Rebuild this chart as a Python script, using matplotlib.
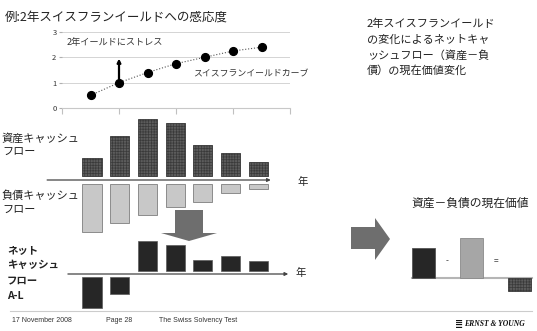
import matplotlib
matplotlib.use("Agg")
import matplotlib.pyplot as plt
import numpy as np
from matplotlib.patches import Polygon

plt.rcParams['font.family'] = ['Noto Sans CJK JP', 'DejaVu Sans']
plt.rcParams['hatch.linewidth'] = 0.5

W, H = 537, 331  # tamanho em pixels

# dados da curva de rendimento
curve_years = [1, 2, 3, 4, 5, 6, 7]
curve_yield = [0.5, 1.0, 1.4, 1.75, 2.0, 2.25, 2.4]
curve_yticks = [0, 1, 2, 3]
curve_xticks = [0, 2, 4, 6, 8]
stress_year = 2
stress_to = 1.95

# fluxos de caixa (ativos, passivos, líquido)
asset_cf = [1.8, 4.0, 5.7, 5.3, 3.1, 2.3, 1.4]
liab_cf = [4.8, 3.9, 3.1, 2.3, 1.8, 0.9, 0.5]
net_cf = [-3.1, -1.7, 3.0, 2.6, 1.1, 1.5, 1.0]

# valor presente A, L, A-L
pv_values = [3.0, 4.0, -1.3]
pv_ops = ['-', '=']

title = '例:2年スイスフランイールドへの感応度'
right_lines = ['2年スイスフランイールド', 'の変化によるネットキャ',
               'ッシュフロー（資産－負', '債）の現在価値変化']
footer = ['17 November 2008', 'Page 28', 'The Swiss Solvency Test']

fig = plt.figure(figsize=(W / 100, H / 100), dpi=100)


def box(x0, y0, x1, y1):
    # caixa em pixels (origem no topo) -> fração da figura
    return [x0 / W, 1 - y1 / H, (x1 - x0) / W, (y1 - y0) / H]


# camada de fundo para setas, linhas e textos
bg = fig.add_axes([0, 0, 1, 1], zorder=0)
bg.set_xlim(0, W)
bg.set_ylim(H, 0)
bg.axis('off')

bg.text(5, 17, title, fontsize=9, va='center', color='#222222')

# curva de rendimento
ax1 = fig.add_axes(box(62, 32, 290, 108))
ax1.set_xlim(0, 8)
ax1.set_ylim(0, 3)
for v in curve_yticks[1:]:
    ax1.axhline(v, color='#d4d4d4', lw=0.7, zorder=0)
ax1.plot(curve_years, curve_yield, ls=':', color='#555555', lw=0.8, zorder=2)
ax1.plot(curve_years, curve_yield, 'o', color='black', ms=5.6, zorder=3)
ax1.annotate('', xy=(stress_year, stress_to),
             xytext=(stress_year, curve_yield[stress_year - 1] + 0.15),
             arrowprops=dict(arrowstyle='-|>', color='black', lw=1.6,
                             mutation_scale=5, shrinkA=0, shrinkB=0))
ax1.set_xticks(curve_xticks)
ax1.set_xticklabels([])
ax1.set_yticks(curve_yticks)
ax1.tick_params(axis='y', length=2, pad=2, labelsize=5.5, colors='#b0b0b0',
                labelcolor='#333333')
ax1.tick_params(axis='x', length=4, colors='#c0c0c0')
for s in ['top', 'right', 'left']:
    ax1.spines[s].set_visible(False)
ax1.spines['bottom'].set_color('#c8c8c8')
ax1.text(0.15, 2.57, '2年イールドにストレス', fontsize=6.6, va='center',
         color='#333333')
ax1.text(4.6, 1.34, 'スイスフランイールドカーブ', fontsize=6.4, va='center',
         color='#333333')
ax1.set_facecolor('none')

# fluxos de ativos e passivos
x = np.arange(len(asset_cf))
ax2 = fig.add_axes(box(64.3, 116, 286, 244))
ax2.set_xlim(-1, 7)
ax2.set_ylim(-6.4, 6.4)
ax2.axis('off')
ax2.bar(x, asset_cf, bottom=0.4, width=0.69, color='#5c5c5c',
        edgecolor='#3a3a3a', hatch='++++++', lw=0.6)
ax2.bar(x, [-v for v in liab_cf], bottom=-0.4, width=0.69, color='#c8c8c8',
        edgecolor='#8c8c8c', lw=0.7)
ax2.annotate('', xy=(6.45, 0), xytext=(-1.62, 0), annotation_clip=False,
             arrowprops=dict(arrowstyle='-|>', color='#444444', lw=0.9,
                             mutation_scale=5, shrinkA=0, shrinkB=0))

for txt, yy in [('資産キャッシュ', 138), ('フロー', 153),
                ('負債キャッシュ', 196), ('フロー', 211)]:
    bg.text(2, yy, txt, fontsize=8, va='center', color='#222222')
bg.text(297, 182, '年', fontsize=7.5, va='center', color='#222222')

# seta para baixo
bg.add_patch(Polygon([(175, 210), (203, 210), (203, 233), (217, 233),
                      (189, 241), (161, 233), (175, 233)],
                     closed=True, color='#6e6e6e', lw=0))

# fluxo líquido
ax3 = fig.add_axes(box(64.3, 239, 286, 309))
ax3.set_xlim(-1, 7)
ax3.set_ylim(-3.5, 3.5)
ax3.axis('off')
ax3.bar(x, net_cf, bottom=np.sign(net_cf) * 0.3, width=0.69,
        color='#262626', edgecolor='#5a5a5a', lw=0.5)
ax3.annotate('', xy=(7.08, 0), xytext=(-0.87, 0), annotation_clip=False,
             arrowprops=dict(arrowstyle='-|>', color='#444444', lw=0.9,
                             mutation_scale=5, shrinkA=0, shrinkB=0))
for txt, yy in [('ネット', 250), ('キャッシュ', 265), ('フロー', 281),
                ('A-L', 296)]:
    bg.text(7, yy, txt, fontsize=7.5, va='center', fontweight='bold',
            color='#222222')
bg.text(295, 273, '年', fontsize=7.5, va='center', color='#222222')

# texto à direita
for i, line in enumerate(right_lines):
    bg.text(367, 24 + i * 15.5, line, fontsize=8, va='center',
            color='#222222')

# seta para a direita
bg.add_patch(Polygon([(351, 227), (375, 227), (375, 218), (390, 239),
                      (375, 260), (375, 249), (351, 249)],
                     closed=True, color='#6e6e6e', lw=0))

bg.text(411, 203, '資産－負債の現在価値', fontsize=8.5, va='center',
        color='#222222')

# valor presente
ax4 = fig.add_axes(box(399.5, 236, 533.9, 293))
ax4.set_xlim(-0.5, 2.3)
ax4.set_ylim(-1.5, 4.2)
ax4.axis('off')
ax4.plot([-0.24, 2.26], [0, 0], color='#b5b5b5', lw=1.5, zorder=0)
pv_bars = ax4.bar(range(3), pv_values, width=0.48,
                  color=['#262626', '#a6a6a6', '#5c5c5c'],
                  edgecolor=['#555555', '#8a8a8a', '#3a3a3a'], lw=0.6)
pv_bars[2].set_hatch('++++++')
for i, op in enumerate(pv_ops):
    ax4.text(i + 0.5, 1.7, op, fontsize=6, ha='center', va='center',
             color='#444444')

# rodapé
bg.plot([10, 532], [311, 311], color='#cccccc', lw=0.8)
for txt, xx in zip(footer, [12, 106, 159]):
    bg.text(xx, 321, txt, fontsize=5, va='center', color='#333333',
            family='Liberation Sans')
bg.text(455, 324, '≣', fontsize=7, va='center', fontweight='bold',
        family='DejaVu Sans', color='#111111')
bg.text(464, 324, 'ERNST & YOUNG', fontsize=5.5, va='center',
        fontweight='bold', style='italic', family='Liberation Serif',
        color='#111111')

fig.savefig('out.png', dpi=100)
